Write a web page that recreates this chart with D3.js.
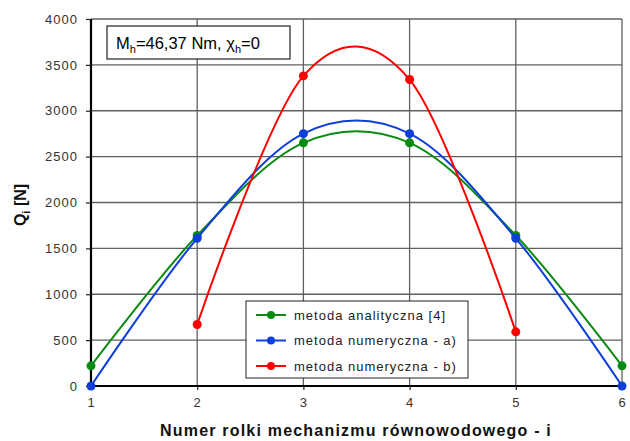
<!DOCTYPE html>
<html>
<head>
<meta charset="utf-8">
<script src="https://cdn.jsdelivr.net/npm/d3@7"></script>
<style>
  body { margin: 0; background: #fff; }
  text { font-family: "Liberation Sans", Arial, sans-serif; }
</style>
</head>
<body>
<svg></svg>
<script>
let rollers = [1, 2, 3, 4, 5, 6];
let analytic = [220, 1640, 2650, 2650, 1640, 220];
let numericA = [0, 1610, 2750, 2750, 1610, 0];
let numericBx = [2, 3, 4, 5];
let numericB = [670, 3380, 3340, 590];
let yTicks = [0, 500, 1000, 1500, 2000, 2500, 3000, 3500, 4000];
let seriesNames = ['metoda analityczna [4]', 'metoda numeryczna - a)', 'metoda numeryczna - b)'];
let colors = ['#0b8a12', '#0f3fd9', '#ff0000'];

let width = 630;
let height = 441;
let plotLeft = 91, plotRight = 622, plotTop = 19, plotBottom = 386;

let svg = d3.select('svg').attr('width', width).attr('height', height);

let xScale = d3.scaleLinear().domain([1, 6]).range([plotLeft, plotRight]);
let yScale = d3.scaleLinear().domain([0, 4000]).range([plotBottom, plotTop]);

// grid
svg.append('g').selectAll('line')
  .data(yTicks)
  .enter().append('line')
  .attr('x1', plotLeft).attr('x2', plotRight)
  .attr('y1', d => yScale(d)).attr('y2', d => yScale(d))
  .attr('stroke', '#606060').attr('stroke-width', 1.3);

svg.append('g').selectAll('line')
  .data(rollers)
  .enter().append('line')
  .attr('x1', d => xScale(d)).attr('x2', d => xScale(d))
  .attr('y1', plotTop).attr('y2', plotBottom)
  .attr('stroke', '#606060').attr('stroke-width', 1.3);

// axes
let yAxis = d3.axisLeft(yScale).tickValues(yTicks).tickSize(5).tickPadding(8).tickFormat(d3.format('d'));
let gy = svg.append('g').attr('transform', `translate(${plotLeft},0)`).call(yAxis);
let xAxis = d3.axisBottom(xScale).tickValues(rollers).tickSize(4).tickPadding(8).tickFormat(d3.format('d'));
let gx = svg.append('g').attr('transform', `translate(0,${plotBottom})`).call(xAxis);

[gx, gy].forEach(g => {
  g.select('.domain').attr('stroke', '#000').attr('stroke-width', 2.2);
  g.selectAll('.tick line').attr('stroke', '#222').attr('stroke-width', 1.2);
  g.selectAll('.tick text').attr('font-size', 13).attr('fill', '#333').attr('letter-spacing', 1)
    .style('font-family', '"Liberation Sans", Arial, sans-serif');
});
gy.select('.domain').attr('d', `M0,${plotBottom}V${plotTop}`);
gx.select('.domain').attr('d', `M${plotLeft},0H${plotRight}`);

// series
let series = [
  { xs: rollers, ys: analytic, color: colors[0] },
  { xs: rollers, ys: numericA, color: colors[1] },
  { xs: numericBx, ys: numericB, color: colors[2] }
];

let line = d3.line()
  .x(d => xScale(d[0]))
  .y(d => yScale(d[1]))
  .curve(d3.curveCardinal.tension(0));

series.forEach(s => {
  let pts = s.xs.map((x, i) => [x, s.ys[i]]);
  svg.append('path')
    .attr('d', line(pts))
    .attr('fill', 'none')
    .attr('stroke', s.color)
    .attr('stroke-width', 2);
  svg.append('g').selectAll('circle')
    .data(pts)
    .enter().append('circle')
    .attr('cx', d => xScale(d[0]))
    .attr('cy', d => yScale(d[1]))
    .attr('r', 4.5)
    .attr('fill', s.color);
});

// annotation box
svg.append('rect')
  .attr('x', 107).attr('y', 26).attr('width', 183).attr('height', 33)
  .attr('fill', '#fff').attr('stroke', '#222').attr('stroke-width', 1.2);
let ann = svg.append('text').attr('x', 116).attr('y', 49).attr('font-size', 16.5).attr('fill', '#000');
ann.append('tspan').text('M');
ann.append('tspan').attr('dy', 4).attr('font-size', 11).text('h');
ann.append('tspan').attr('dy', -4).text('=46,37 Nm, ');
ann.append('tspan').text('χ');
ann.append('tspan').attr('dy', 4).attr('font-size', 11).text('h');
ann.append('tspan').attr('dy', -4).text('=0');

// legend
svg.append('rect')
  .attr('x', 246).attr('y', 301).attr('width', 222).attr('height', 77)
  .attr('fill', '#fff').attr('stroke', '#222').attr('stroke-width', 1);
seriesNames.forEach((name, i) => {
  let y = 315 + i * 25.5;
  svg.append('line').attr('x1', 256).attr('x2', 286).attr('y1', y).attr('y2', y)
    .attr('stroke', colors[i]).attr('stroke-width', 2);
  svg.append('circle').attr('cx', 271).attr('cy', y).attr('r', 4).attr('fill', colors[i]);
  svg.append('text').attr('x', 294).attr('y', y + 4.5).attr('font-size', 13)
    .attr('fill', '#222').attr('letter-spacing', 1).text(name);
});

// axis titles
let yt = svg.append('text')
  .attr('transform', 'translate(26,205) rotate(-90)')
  .attr('text-anchor', 'middle').attr('font-size', 16).attr('font-weight', 'bold').attr('fill', '#111');
yt.append('tspan').text('Q');
yt.append('tspan').attr('dy', 4).attr('font-size', 11).text('i');
yt.append('tspan').attr('dy', -4).text(' [N]');

svg.append('text')
  .attr('x', 356).attr('y', 436)
  .attr('text-anchor', 'middle').attr('font-size', 16).attr('font-weight', 'bold').attr('fill', '#111')
  .attr('letter-spacing', 1.2)
  .text('Numer rolki mechanizmu równowodowego - i');
</script>
</body>
</html>
